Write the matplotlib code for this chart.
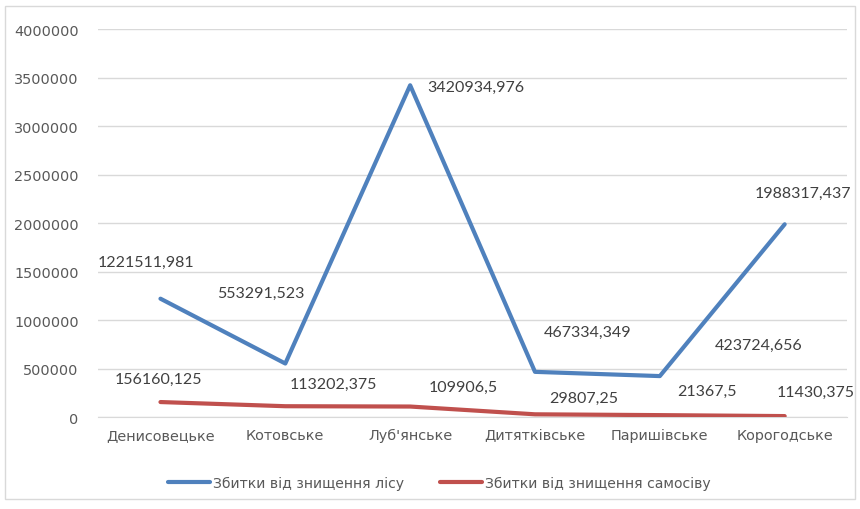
import matplotlib
matplotlib.use("Agg")
import matplotlib.pyplot as plt
from matplotlib.patches import Rectangle

categories = ["Денисовецьке", "Котовське", "Луб'янське", "Дитятківське", "Паришівське", "Корогодське"]
forest = [1221511.981, 553291.523, 3420934.976, 467334.349, 423724.656, 1988317.437]
selfsown = [156160.125, 113202.375, 109906.5, 29807.25, 21367.5, 11430.375]
forest_labels = ["1221511,981", "553291,523", "3420934,976", "467334,349", "423724,656", "1988317,437"]
selfsown_labels = ["156160,125", "113202,375", "109906,5", "29807,25", "21367,5", "11430,375"]
yticks = [0, 500000, 1000000, 1500000, 2000000, 2500000, 3000000, 3500000, 4000000]
series_names = ["Збитки від знищення лісу", "Збитки від знищення самосіву"]

blue = "#4f81bd"
red = "#c0504d"
gray = "#595959"

fig = plt.figure(figsize=(8.6, 5.1), dpi=100)
ax = fig.add_axes([0.114, 0.180, 0.871, 0.761])

x = list(range(len(categories)))
ax.plot(x, forest, color=blue, lw=3, solid_capstyle="round", solid_joinstyle="round", label=series_names[0], zorder=3)
ax.plot(x, selfsown, color=red, lw=3, solid_capstyle="round", solid_joinstyle="round", label=series_names[1], zorder=3)

ax.set_xlim(-0.5, len(categories) - 0.5)
ax.set_ylim(0, 4000000)
ax.set_yticks(yticks)
ax.set_yticklabels([str(v) for v in yticks])
ax.set_xticks(x)
ax.set_xticklabels(categories)
ax.tick_params(axis="both", length=0, labelsize=10.4, labelcolor=gray, pad=8)
ax.tick_params(axis="y", pad=14)
ax.grid(axis="y", color="#d9d9d9", lw=1)
ax.set_axisbelow(True)
for s in ["top", "right", "left"]:
    ax.spines[s].set_visible(False)
ax.spines["bottom"].set_color("#d9d9d9")

lbl_font = dict(fontfamily="Lato", fontsize=11.5, color="#404040", ha="center", va="center")
f_off = [(-14, 37), (-24, 71), (66, -2), (53, 40), (99, 31), (18, 31)]
s_off = [(-2, 23), (48, 22), (53, 20), (49, 16), (47, 24), (31, 24)]
for i in x:
    ax.annotate(forest_labels[i], (i, forest[i]), xytext=f_off[i], textcoords="offset pixels", **lbl_font)
    ax.annotate(selfsown_labels[i], (i, selfsown[i]), xytext=s_off[i], textcoords="offset pixels", **lbl_font)

leg = fig.legend(loc="center", bbox_to_anchor=(0.511, 0.052), ncol=2, frameon=False,
                 fontsize=10.1, handlelength=3.0, handletextpad=0.2, columnspacing=2.6)
for t in leg.get_texts():
    t.set_color(gray)

fig.add_artist(Rectangle((0.006, 0.02), 0.988, 0.966, transform=fig.transFigure,
                         fill=False, edgecolor="#d9d9d9", lw=1))

fig.savefig("out.png", dpi=100)
